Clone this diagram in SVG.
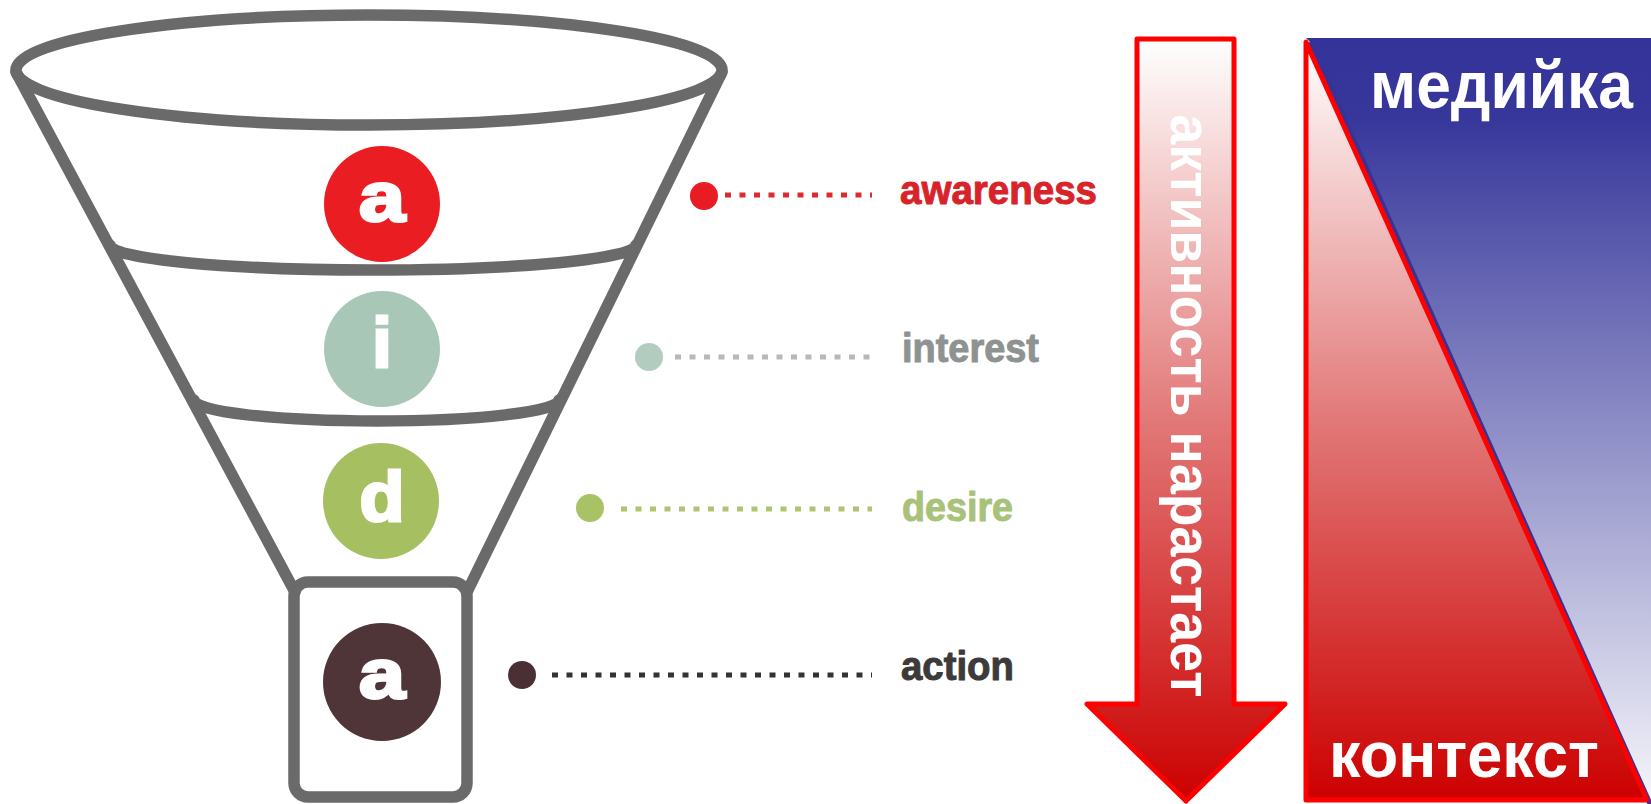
<svg xmlns="http://www.w3.org/2000/svg" width="1651" height="804" viewBox="0 0 1651 804">
  <defs>
    <linearGradient id="redFade" gradientUnits="userSpaceOnUse" x1="0" y1="39" x2="0" y2="801">
      <stop offset="0" stop-color="#ffffff"/>
      <stop offset="0.5" stop-color="#e27878"/>
      <stop offset="1" stop-color="#cc0000"/>
    </linearGradient>
    <linearGradient id="redFadeTri" gradientUnits="userSpaceOnUse" x1="0" y1="42" x2="0" y2="800">
      <stop offset="0" stop-color="#ffffff"/>
      <stop offset="0.5" stop-color="#e27878"/>
      <stop offset="1" stop-color="#cc0000"/>
    </linearGradient>
    <linearGradient id="blueFade" gradientUnits="userSpaceOnUse" x1="0" y1="38" x2="0" y2="804">
      <stop offset="0" stop-color="#333399"/>
      <stop offset="0.1" stop-color="#36369b"/>
      <stop offset="1" stop-color="#f6f6fb"/>
    </linearGradient>
  </defs>
  <style>
    .funnel { fill: none; stroke: #6a6a6a; stroke-width: 11.5; stroke-linejoin: round; stroke-linecap: round; }
    .letter { font-family: "Liberation Sans", Arial, sans-serif; font-weight: bold; font-size: 70px; fill: #ffffff; stroke: #ffffff; stroke-width: 3; stroke-linejoin: miter; text-anchor: middle; }
    .label { font-family: "Liberation Sans", Arial, sans-serif; font-weight: bold; font-size: 40px; stroke-width: 1; stroke-linejoin: round; }
    .dots { fill: none; stroke-width: 5; stroke-dasharray: 6 8.5; }
    .big { font-family: "Liberation Sans", Arial, sans-serif; font-weight: bold; fill: #ffffff; }
  </style>
  <rect width="1651" height="804" fill="#ffffff"/>

  <!-- funnel outline -->
  <g id="funnel" class="funnel">
    <ellipse cx="369" cy="70" rx="353" ry="55"/>
    <line x1="16" y1="72" x2="295" y2="592"/>
    <line x1="722" y1="72" x2="467" y2="592"/>
    <path d="M110,245 A263,25 0 0 0 636,245"/>
    <path d="M194,400 A182.5,21 0 0 0 559,400"/>
    <rect x="294" y="582" width="173" height="215" rx="14"/>
  </g>

  <!-- stage badges -->
  <g id="stage-awareness">
    <circle cx="382" cy="204" r="58" fill="#ea1d22"/>
    <text class="letter" x="382" y="221" textLength="46" lengthAdjust="spacingAndGlyphs">a</text>
  </g>
  <g id="stage-interest">
    <circle cx="382" cy="349" r="58" fill="#a9c7b7"/>
    <text class="letter" x="382" y="367">i</text>
  </g>
  <g id="stage-desire">
    <circle cx="381" cy="501" r="58" fill="#a6c061"/>
    <text class="letter" x="382" y="521" textLength="45" lengthAdjust="spacingAndGlyphs">d</text>
  </g>
  <g id="stage-action">
    <circle cx="382" cy="682" r="59" fill="#4f3538"/>
    <text class="letter" x="382" y="698" textLength="46" lengthAdjust="spacingAndGlyphs">a</text>
  </g>

  <!-- leader lines from the funnel to the stage names -->
  <g id="connectors">
    <circle cx="704" cy="196" r="14" fill="#e81c22"/>
    <line class="dots" x1="725" y1="195" x2="872" y2="195" stroke="#dd2a2e"/>
    <circle cx="649" cy="357" r="14" fill="#b2cdbf"/>
    <line class="dots" x1="675" y1="357" x2="872" y2="357" stroke="#b5b9b8"/>
    <circle cx="590" cy="508" r="14" fill="#a9c266"/>
    <line class="dots" x1="621" y1="509" x2="872" y2="509" stroke="#aec470"/>
    <circle cx="522" cy="675" r="14" fill="#4a3035"/>
    <line class="dots" x1="552" y1="675" x2="872" y2="675" stroke="#333333"/>
  </g>

  <!-- stage names -->
  <g id="labels">
    <text id="label-awareness" class="label" x="900" y="204" fill="#d9232b" stroke="#d9232b" textLength="197" lengthAdjust="spacingAndGlyphs">awareness</text>
    <text id="label-interest" class="label" x="902" y="362" fill="#8e9391" stroke="#8e9391" textLength="137" lengthAdjust="spacingAndGlyphs">interest</text>
    <text id="label-desire" class="label" x="902" y="521" fill="#a9c27a" stroke="#a9c27a" textLength="111" lengthAdjust="spacingAndGlyphs">desire</text>
    <text id="label-action" class="label" x="901" y="680" fill="#3c3a3b" stroke="#3c3a3b" textLength="113" lengthAdjust="spacingAndGlyphs">action</text>
  </g>

  <!-- downward arrow -->
  <g id="activity-arrow">
    <path d="M1137,39 L1234,39 L1234,704 L1285,704 L1186,801 L1087,704 L1137,704 Z" fill="url(#redFade)" stroke="#ff0000" stroke-width="5" stroke-linejoin="round"/>
    <text class="big" font-size="58" text-anchor="middle" transform="translate(1171,406) rotate(90)" textLength="583" lengthAdjust="spacingAndGlyphs">активность нарастает</text>
  </g>

  <!-- media / context split -->
  <g id="media-panel">
    <path d="M1306,38 L1651,38 L1651,806 L1310,42 Z" fill="url(#blueFade)"/>
    <line x1="1310" y1="42" x2="1651" y2="806" stroke="#333399" stroke-width="5"/>
    <text class="big" font-size="66" x="1370" y="108" textLength="263" lengthAdjust="spacingAndGlyphs">медийка</text>
  </g>
  <g id="context-panel">
    <path d="M1306,42 L1306,800 L1647,800 Z" fill="url(#redFadeTri)" stroke="#ff0000" stroke-width="5" stroke-linejoin="round"/>
    <text class="big" font-size="64" x="1329" y="777" textLength="270" lengthAdjust="spacingAndGlyphs">контекст</text>
  </g>
</svg>
